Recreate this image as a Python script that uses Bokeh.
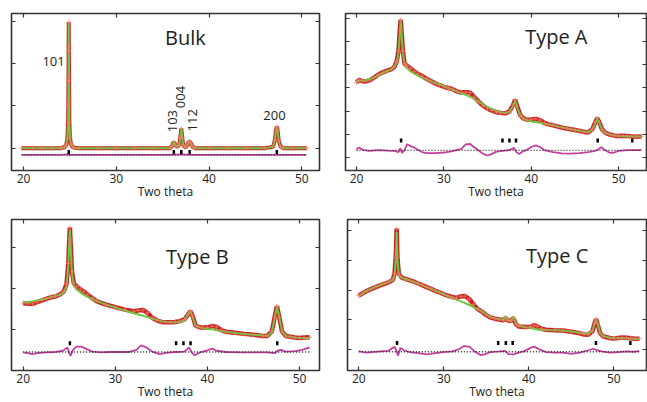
import numpy as np
from bokeh.plotting import figure
from bokeh.models import Range1d, FixedTicker, LinearAxis, Label
from bokeh.layouts import column, row
from bokeh.embed import file_html
from bokeh.resources import INLINE

# ---------------- data ----------------
x_ticks = [20, 30, 40, 50]

# Bulk
bulk_x = [19.8, 21, 22, 23, 24, 24.4, 24.6, 24.72, 24.8, 24.82, 24.84, 24.855, 24.87, 24.885, 24.9, 24.92,
          24.94, 25.0, 25.1, 25.25, 25.5, 26, 28, 30, 32, 34, 35.8, 36.0, 36.2, 36.4, 36.6, 36.8, 36.9, 37.0,
          37.1, 37.2, 37.4, 37.6, 37.8, 37.9, 38.0, 38.2, 38.5, 40, 42, 44, 46, 46.9, 47.1, 47.2, 47.3, 47.4,
          47.5, 47.7, 48, 49, 50.5]
bulk_obs = [0, 0, 0, 0, 0, 0.02, 0.08, 0.22, 0.6, 1.0, 1.6, 2.3, 2.98, 2.4, 1.7, 1.1,
            0.6, 0.25, 0.1, 0.03, 0.01, 0, 0, 0, 0, 0, 0, 0.05, 0.15, 0.06, 0.03, 0.1, 0.25, 0.46,
            0.25, 0.08, 0.02, 0.05, 0.14, 0.16, 0.13, 0.04, 0, 0, 0, 0, 0, 0.03, 0.2, 0.42, 0.51, 0.4,
            0.18, 0.04, 0, 0, 0]
bulk_calc = [0, 0, 0, 0, 0, 0.02, 0.08, 0.22, 0.6, 1.0, 1.6, 2.3, 2.98, 2.4, 1.7, 1.1,
             0.6, 0.25, 0.1, 0.03, 0.01, 0, 0, 0, 0, 0, 0, 0.05, 0.15, 0.06, 0.03, 0.1, 0.25, 0.46,
             0.25, 0.08, 0.02, 0.05, 0.14, 0.16, 0.13, 0.04, 0, 0, 0, 0, 0, 0.03, 0.2, 0.42, 0.51, 0.4,
             0.18, 0.04, 0, 0, 0]
bulk_diff_x = [19.8, 22, 24, 24.8, 24.9, 25, 26, 30, 36, 37, 38, 40, 47.3, 50.5]
bulk_diff = [-0.16, -0.16, -0.16, -0.15, -0.17, -0.16, -0.16, -0.16, -0.16, -0.15, -0.16, -0.16, -0.16, -0.16]
bulk_zero = -0.16
bulk_marks = [24.87, 36.2, 37.0, 37.9, 47.3]
bulk_mark_level = -0.09
bulk_hkl = ["101", "103", "004", "112", "200"]
bulk_hkl_angle = [0, 90, 90, 90, 0]

# Type A
a_x = [20.0, 20.3, 20.6, 21.0, 21.5, 22.0, 22.5, 23.0, 23.5, 24.0, 24.3, 24.6, 24.8, 24.95, 25.05, 25.15,
       25.3, 25.5, 25.8, 26.2, 26.6, 27.0, 27.5, 28.0, 28.5, 29.0, 29.5, 30.0, 30.5, 31.0, 31.5, 32.0,
       32.5, 33.0, 33.5, 34.0, 34.5, 35.0, 35.5, 36.0, 36.5, 37.0, 37.5, 37.9, 38.15, 38.4, 38.7, 39.0,
       39.5, 40.0, 40.5, 41.0, 41.5, 42.0, 42.5, 43.0, 43.5, 44.0, 44.5, 45.0, 45.5, 46.0, 46.5, 47.0,
       47.3, 47.55, 47.8, 48.1, 48.5, 49.0, 49.5, 50.0, 50.5, 51.0, 51.5, 52.0, 52.6]
a_obs = [3.25, 3.35, 3.30, 3.28, 3.33, 3.45, 3.58, 3.68, 3.75, 3.82, 3.90, 4.15, 4.6, 5.5, 5.95, 5.5,
         4.6, 4.05, 3.95, 3.85, 3.72, 3.62, 3.52, 3.40, 3.30, 3.20, 3.12, 3.05, 3.00, 2.95, 2.85, 2.80,
         2.82, 2.80, 2.60, 2.40, 2.22, 2.10, 2.02, 1.95, 1.92, 1.90, 1.98, 2.25, 2.48, 2.20, 1.85, 1.70,
         1.62, 1.63, 1.66, 1.60, 1.48, 1.42, 1.38, 1.33, 1.28, 1.24, 1.21, 1.18, 1.14, 1.10, 1.07, 1.22,
         1.50, 1.68, 1.50, 1.20, 1.05, 0.98, 0.93, 0.92, 0.93, 0.92, 0.90, 0.88, 0.90]
a_calc = [3.30, 3.30, 3.32, 3.34, 3.38, 3.45, 3.55, 3.65, 3.73, 3.82, 3.92, 4.10, 4.5, 5.3, 5.92, 5.4,
          4.5, 4.05, 3.85, 3.72, 3.62, 3.55, 3.46, 3.38, 3.30, 3.22, 3.15, 3.08, 3.00, 2.92, 2.85, 2.77,
          2.70, 2.62, 2.52, 2.40, 2.28, 2.17, 2.08, 2.00, 1.95, 1.92, 1.96, 2.22, 2.45, 2.15, 1.85, 1.70,
          1.60, 1.55, 1.52, 1.49, 1.45, 1.42, 1.38, 1.33, 1.29, 1.25, 1.21, 1.18, 1.14, 1.11, 1.08, 1.20,
          1.48, 1.65, 1.48, 1.18, 1.05, 0.98, 0.94, 0.92, 0.91, 0.90, 0.90, 0.89, 0.89]
a_diff_x = [20.0, 20.3, 20.8, 21.5, 22.5, 23.5, 24.3, 24.8, 25.0, 25.2, 25.5, 25.8, 26.2, 26.6, 27.0, 27.5,
            28.0, 29.0, 30.0, 31.0, 32.0, 32.5, 33.0, 33.5, 34.0, 34.5, 35.0, 35.5, 36.0, 37.0, 37.5, 38.0,
            38.3, 38.6, 39.0, 39.5, 40.0, 40.5, 41.0, 41.5, 42.5, 43.5, 44.5, 45.5, 46.5, 47.3, 47.6, 48.0,
            48.4, 49.0, 49.5, 50.0, 51.0, 52.0, 52.6]
a_diff = [0.33, 0.42, 0.30, 0.27, 0.30, 0.28, 0.27, 0.22, 0.38, 0.18, 0.30, 0.56, 0.48, 0.42, 0.32, 0.22,
          0.17, 0.17, 0.20, 0.26, 0.36, 0.55, 0.57, 0.42, 0.28, 0.14, 0.07, 0.14, 0.24, 0.28, 0.30, 0.40,
          0.22, 0.13, 0.24, 0.32, 0.44, 0.51, 0.44, 0.30, 0.22, 0.16, 0.15, 0.17, 0.22, 0.27, 0.32, 0.43,
          0.32, 0.18, 0.20, 0.27, 0.30, 0.30, 0.31]
a_zero = 0.29
a_marks = [25.1, 36.7, 37.5, 38.25, 47.6, 51.55]
a_mark_level = 0.72

# Type B
b_x = [20.0, 20.5, 21.0, 21.5, 22.0, 22.5, 23.0, 23.5, 24.0, 24.4, 24.7, 24.9, 25.0, 25.07, 25.15, 25.3,
       25.5, 25.8, 26.2, 26.6, 27.0, 27.5, 28.0, 29.0, 30.0, 31.0, 32.0, 32.5, 33.0, 33.5, 34.0, 34.5,
       35.0, 35.5, 36.0, 36.5, 37.0, 37.5, 37.9, 38.15, 38.4, 38.7, 39.0, 39.5, 40.0, 40.5, 41.0, 41.5,
       42.0, 43.0, 44.0, 45.0, 46.0, 46.5, 47.0, 47.3, 47.55, 47.8, 48.1, 48.5, 49.0, 49.5, 50.0, 50.5, 51.1]
b_obs = [1.64, 1.62, 1.62, 1.66, 1.70, 1.74, 1.78, 1.80, 1.85, 1.92, 2.10, 2.60, 3.20, 3.47, 3.10, 2.40,
         2.12, 2.04, 1.98, 1.92, 1.84, 1.76, 1.68, 1.60, 1.54, 1.48, 1.44, 1.46, 1.47, 1.40, 1.28, 1.22,
         1.18, 1.17, 1.17, 1.18, 1.20, 1.24, 1.36, 1.44, 1.32, 1.10, 1.06, 1.04, 1.05, 1.08, 1.06, 0.98,
         0.94, 0.92, 0.89, 0.87, 0.84, 0.84, 0.95, 1.30, 1.56, 1.30, 0.95, 0.84, 0.82, 0.80, 0.79, 0.80, 0.81]
b_calc = [1.66, 1.66, 1.68, 1.70, 1.72, 1.75, 1.78, 1.81, 1.84, 1.90, 2.05, 2.55, 3.10, 3.42, 3.00, 2.35,
          2.05, 1.97, 1.90, 1.84, 1.79, 1.74, 1.69, 1.60, 1.53, 1.46, 1.39, 1.36, 1.33, 1.30, 1.26, 1.23,
          1.20, 1.18, 1.17, 1.17, 1.18, 1.22, 1.36, 1.45, 1.30, 1.10, 1.06, 1.03, 1.01, 1.00, 0.98, 0.96,
          0.94, 0.91, 0.89, 0.87, 0.85, 0.84, 0.93, 1.28, 1.55, 1.30, 0.95, 0.84, 0.82, 0.80, 0.79, 0.79, 0.79]
b_diff_x = [20.0, 20.5, 21.0, 21.5, 22.5, 23.5, 24.3, 24.8, 25.0, 25.15, 25.4, 25.8, 26.3, 26.8, 27.5, 28.5,
            29.5, 30.5, 31.5, 32.3, 32.8, 33.3, 34.0, 34.8, 35.5, 36.5, 37.5, 38.0, 38.3, 38.6, 39.2, 40.0,
            40.5, 41.0, 42.0, 43.5, 45.0, 46.5, 47.3, 47.6, 48.0, 48.5, 49.5, 50.3, 51.1]
b_diff = [0.44, 0.42, 0.40, 0.42, 0.44, 0.45, 0.48, 0.56, 0.42, 0.36, 0.50, 0.58, 0.58, 0.53, 0.46, 0.44,
          0.45, 0.45, 0.45, 0.50, 0.61, 0.57, 0.46, 0.40, 0.43, 0.45, 0.46, 0.56, 0.44, 0.37, 0.44, 0.49,
          0.53, 0.48, 0.45, 0.44, 0.44, 0.44, 0.42, 0.48, 0.50, 0.46, 0.47, 0.50, 0.56]
b_zero = 0.45
b_marks = [25.07, 36.6, 37.4, 38.17, 47.58]
b_mark_level = 0.66

# Type C
c_x = [20.0, 20.5, 21.0, 21.5, 22.0, 22.5, 23.0, 23.5, 24.0, 24.2, 24.35, 24.45, 24.55, 24.7, 25.0, 25.5,
       26.0, 26.5, 27.0, 27.5, 28.0, 28.5, 29.0, 29.5, 30.0, 30.5, 31.0, 31.5, 32.0, 32.5, 33.0, 33.5,
       34.0, 34.5, 35.0, 35.5, 36.0, 36.5, 37.0, 37.25, 37.6, 37.9, 38.15, 38.5, 38.8, 39.5, 40.2, 40.6,
       41.0, 41.5, 42.0, 43.0, 44.0, 45.0, 46.0, 46.5, 47.0, 47.5, 47.75, 47.92, 48.1, 48.4, 48.8, 49.5,
       50.0, 50.5, 51.0, 51.5, 52.0, 52.5, 53.0]
c_obs = [1.82, 1.90, 1.98, 2.04, 2.10, 2.16, 2.21, 2.26, 2.34, 2.55, 3.10, 4.06, 3.10, 2.55, 2.43, 2.38,
         2.33, 2.28, 2.22, 2.16, 2.10, 2.04, 1.97, 1.92, 1.86, 1.81, 1.77, 1.74, 1.79, 1.80, 1.70, 1.52,
         1.36, 1.27, 1.16, 1.08, 1.04, 1.01, 0.99, 1.06, 0.97, 0.97, 1.06, 0.85, 0.78, 0.76, 0.77, 0.82,
         0.78, 0.70, 0.67, 0.65, 0.64, 0.60, 0.55, 0.51, 0.50, 0.62, 0.90, 1.02, 0.85, 0.55, 0.44, 0.39,
         0.37, 0.39, 0.41, 0.40, 0.38, 0.37, 0.37]
c_calc = [1.80, 1.90, 1.99, 2.05, 2.11, 2.17, 2.22, 2.27, 2.34, 2.50, 3.00, 3.95, 3.00, 2.50, 2.42, 2.37,
          2.32, 2.27, 2.22, 2.16, 2.10, 2.04, 1.98, 1.92, 1.86, 1.80, 1.74, 1.68, 1.62, 1.56, 1.50, 1.43,
          1.36, 1.28, 1.18, 1.10, 1.05, 1.02, 1.00, 1.12, 0.98, 0.96, 1.12, 0.88, 0.80, 0.76, 0.73, 0.70,
          0.68, 0.67, 0.66, 0.65, 0.64, 0.61, 0.57, 0.54, 0.53, 0.64, 0.90, 1.00, 0.88, 0.55, 0.45, 0.40,
          0.38, 0.38, 0.38, 0.38, 0.37, 0.37, 0.37]
c_diff_x = [20.0, 20.5, 21.0, 21.5, 22.5, 23.5, 24.2, 24.45, 24.6, 24.9, 25.3, 26.0, 27.0, 28.0, 29.0, 30.0,
            31.0, 31.8, 32.4, 33.0, 33.6, 34.3, 34.8, 35.5, 36.5, 37.2, 37.6, 38.2, 38.8, 39.5, 40.2, 40.6,
            41.2, 42.0, 43.0, 44.0, 45.0, 46.0, 47.0, 47.6, 48.0, 48.6, 49.5, 50.5, 51.5, 52.3, 53.0]
c_diff = [-0.05, -0.08, -0.10, -0.08, -0.06, -0.04, 0.10, -0.05, -0.20, 0.06, -0.02, -0.08, -0.12, -0.16, -0.12, -0.08,
          -0.06, 0.02, 0.12, 0.10, -0.05, -0.18, -0.16, -0.08, -0.06, -0.04, -0.15, -0.16, -0.10, -0.05, 0.06, 0.10,
          0.02, -0.08, -0.10, -0.10, -0.14, -0.10, -0.02, 0.03, -0.02, -0.06, -0.10, -0.08, -0.06, -0.07, -0.05]
c_zero = -0.07
c_marks = [24.5, 36.4, 37.3, 38.1, 47.9, 51.95]
c_mark_level = 0.22

FONT = "Open Sans"
TXT = "#222222"
RED = "#c8161a"
CROSS = "#ef7d62"
GREEN = "#6cc840"
MAGENTA = "#c2409e"


def panel(width, height, borders, xr, yr, yticks, title, title_xy,
          ox, oy, cy, dx, dy, zero, marks, mark_level, band_w):
    l, r, t, b = borders
    p = figure(width=width, height=height, output_backend="svg", toolbar_location=None,
               x_range=Range1d(*xr), y_range=Range1d(*yr),
               min_border_left=l, min_border_right=r, min_border_top=t, min_border_bottom=b)
    p.grid.visible = False
    p.background_fill_color = "white"
    p.border_fill_color = "white"
    p.outline_line_color = "#333333"
    p.outline_line_width = 1.6
    p.outline_line_alpha = 1.0

    xa = p.xaxis[0]
    xa.ticker = FixedTicker(ticks=x_ticks)
    xa.major_label_text_font = FONT
    xa.major_label_text_font_size = "12px"
    xa.major_label_text_color = TXT
    xa.major_label_standoff = 3
    xa.axis_label = "Two theta"
    xa.axis_label_text_font = FONT
    xa.axis_label_text_font_size = "12px"
    xa.axis_label_text_font_style = "normal"
    xa.axis_label_text_color = TXT
    xa.axis_label_standoff = -3
    ya = p.yaxis[0]
    ya.ticker = FixedTicker(ticks=yticks)
    p.add_layout(LinearAxis(ticker=FixedTicker(ticks=yticks)), "right")
    p.add_layout(LinearAxis(ticker=FixedTicker(ticks=x_ticks)), "above")
    for ax in p.axis:
        ax.axis_line_color = None
        ax.major_tick_in = 4
        ax.major_tick_out = 0
        ax.minor_tick_in = 0
        ax.minor_tick_out = 0
        ax.major_tick_line_color = "#333333"
        ax.major_tick_line_width = 1.2
    for ax, tk in [(p.yaxis[0], yticks), (p.yaxis[1], yticks), (p.above[0], x_ticks)]:
        ax.major_label_overrides = {v: "" for v in tk}
        ax.major_label_text_font_size = "1px"
        ax.major_label_standoff = 0

    # observed band + calc + crosses
    p.line(ox, oy, line_color=RED, line_width=band_w, line_alpha=0.95)
    p.line(ox, cy, line_color=GREEN, line_width=2)
    p.scatter(ox, oy, marker="cross", size=5, line_color=CROSS, line_width=1, line_alpha=0.8)
    # difference
    p.line(dx, dy, line_color=MAGENTA, line_width=1.8)
    p.line([min(dx), max(dx)], [zero, zero], line_color="#222222", line_width=1.3, line_dash="1 2")
    # Bragg positions
    p.scatter(marks, [mark_level] * len(marks), marker="dash", angle=np.pi / 2, size=4,
              line_color="black", line_width=2.5)

    p.add_layout(Label(x=title_xy[0], y=title_xy[1], text=title, text_font=FONT, text_font_size="20px",
                       text_color=TXT, text_align="center", text_baseline="middle"))
    return p


p1 = panel(333, 205, (11, 14, 11, 34), (18.7, 51.9), (-0.53, 3.19), [0, 1, 2, 3], "Bulk", (37.45, 2.61),
           bulk_x, bulk_obs, bulk_calc, bulk_diff_x, bulk_diff, bulk_zero,
           bulk_marks, bulk_mark_level, 4)
# hkl labels for bulk
hkl_pos = [(23.23, 2.05), (36.02, 0.64), (36.91, 1.21), (38.17, 0.66), (47.04, 0.77)]
for (hx, hy), txt, ang in zip(hkl_pos, bulk_hkl, bulk_hkl_angle):
    p1.add_layout(Label(x=hx, y=hy, text=txt, angle=ang, angle_units="deg", text_font=FONT,
                        text_font_size="13px", text_color=TXT, text_align="center", text_baseline="middle"))

p2 = panel(314, 205, (12, 1, 13, 35), (18.74, 53.18), (-0.58, 6.23), [0, 1, 2, 3, 4, 5, 6], "Type A",
           (42.86, 5.23), a_x, a_obs, a_calc, a_diff_x, a_diff, a_zero,
           a_marks, a_mark_level, 4.5)
p3 = panel(333, 197, (11, 14, 14, 27), (18.73, 52.17), (0.0, 3.67), [1, 2, 3], "Type B",
           (38.9, 2.78), b_x, b_obs, b_calc, b_diff_x, b_diff, b_zero,
           b_marks, b_mark_level, 4.5)
p4 = panel(314, 197, (14, 1, 14, 27), (18.67, 53.85), (-0.70, 4.37), [0, 1, 2, 3, 4], "Type C",
           (43.34, 3.17), c_x, c_obs, c_calc, c_diff_x, c_diff, c_zero,
           c_marks, c_mark_level, 4.5)

layout = column(row(p1, p2), row(p3, p4))
open("out.html", "w").write(file_html(layout, INLINE))
